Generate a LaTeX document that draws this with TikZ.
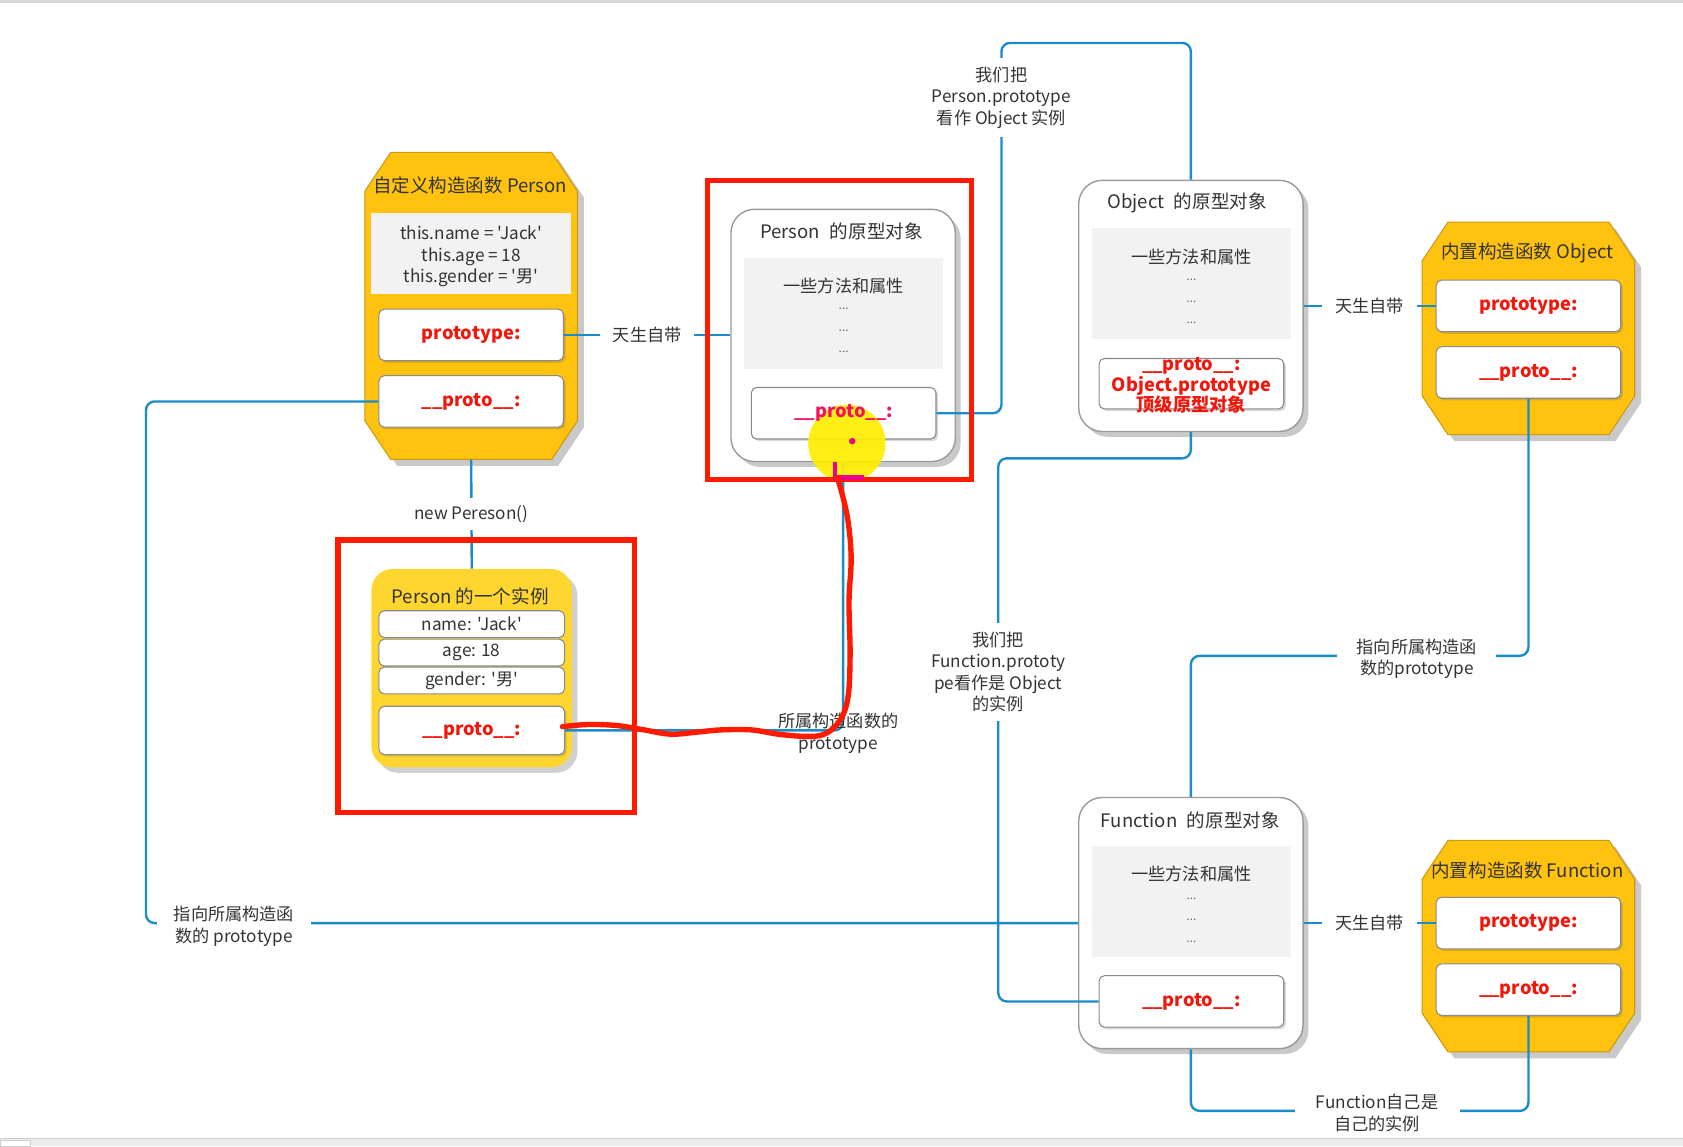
\documentclass[tikz,border=0pt]{standalone}
\usepackage{fontspec}
\setmainfont{Noto Sans CJK SC}[Ligatures=TeXOff]
\usetikzlibrary{shadows}
\definecolor{lnblue}{HTML}{1C8CC8}
\definecolor{gold}{HTML}{FFC20E}
\definecolor{golddk}{HTML}{C99A10}
\definecolor{instyel}{HTML}{FFD630}
\definecolor{grayfill}{HTML}{F2F2F2}
\definecolor{slotbd}{HTML}{8A8A8A}
\definecolor{objbd}{HTML}{9A9A9A}
\definecolor{txt}{HTML}{333333}
\definecolor{redhl}{HTML}{FF1A00}
\definecolor{txtred}{HTML}{F0180C}
\definecolor{rulergray}{HTML}{D6D6D6}
\definecolor{stripgray}{HTML}{ECECEC}
\definecolor{stripbd}{HTML}{CFCFCF}
\newcommand{\fLbl}{\fontsize{16}{20}\selectfont}
\newcommand{\fTtl}{\fontsize{17.3}{20}\selectfont}
\newcommand{\fSlot}{\fontsize{17}{19}\selectfont\bfseries}
\newcommand{\fDots}{\fontsize{11}{12}\selectfont}
\newcommand{\octashape}[4]{%
 \path[octa] ({#1-#3/2+24},{#2-#4/2}) -- ({#1+#3/2-24},{#2-#4/2}) -- ({#1+#3/2},{#2-#4/2+36}) -- ({#1+#3/2},{#2+#4/2-36}) -- ({#1+#3/2-24},{#2+#4/2}) -- ({#1-#3/2+24},{#2+#4/2}) -- ({#1-#3/2},{#2+#4/2-36}) -- ({#1-#3/2},{#2-#4/2+36}) -- cycle;}
\tikzset{
 conn/.style={draw=lnblue, line width=2.2pt, rounded corners=8pt},
 lbl/.style={fill=white, text=txt, font=\fLbl, align=center, inner xsep=12pt, inner ysep=5pt},
 slot/.style={draw=slotbd, fill=white, rounded corners=5pt, line width=1pt, minimum width=172pt, minimum height=48pt, inner sep=0pt, text=txtred, font=\fSlot, drop shadow={shadow xshift=2pt, shadow yshift=-2pt, opacity=0.25, fill=black!60}},
 field/.style={draw=slotbd, fill=white, rounded corners=5pt, line width=1pt, minimum width=173pt, minimum height=25pt, inner sep=0pt, text=txt, font=\fLbl},
 protoobj/.style={draw=objbd, fill=white, rounded corners=22pt, line width=1.3pt, minimum width=209pt, minimum height=234pt, inner sep=0pt, drop shadow={shadow xshift=5pt, shadow yshift=-5pt, opacity=0.35, fill=black!60}},
 graybox/.style={fill=grayfill, minimum width=186pt, minimum height=104pt, inner sep=0pt},
 octa/.style={fill=gold, draw=golddk, line width=1pt, drop shadow={shadow xshift=6pt, shadow yshift=-6pt, opacity=0.35, fill=black!60}},
 ghost/.style={inner sep=0pt, draw=none},
 ttl/.style={text=txt, font=\fTtl, inner sep=1pt},
 mth/.style={text=txt, font=\fLbl, inner sep=1pt},
 dots/.style={text=black!60, font=\fDots, inner sep=0pt},
 hl/.style={draw=redhl, line width=5pt},
}
\begin{document}
\begin{tikzpicture}[x=1pt,y=-1pt]
\fill[white] (0,0) rectangle (1568,1068);
\useasboundingbox (0,0) rectangle (1568,1068);
\fill[rulergray] (0,0) rectangle (1568,2.5);
\fill[stripgray] (0,1060) rectangle (1568,1068);
\draw[stripbd] (0,1060) -- (1568,1060);
\draw[stripbd, fill=white] (0,1062) rectangle (28,1068);

% ---------- Person constructor ----------
\octashape{439}{285}{198}{286}
\node[ghost, minimum width=198pt, minimum height=286pt] (pc) at (439,285) {};
\node[ttl] (pct) at (438,173) {自定义构造函数 Person};
\node[graybox, minimum width=186pt, minimum height=76pt, text=txt, font=\fLbl, align=center] (pcg) at (439,236) {};
\node[mth, align=center] (pcgt) at (439,239) {this.name = 'Jack'\\this.age = 18\\this.gender = '男'};
\node[slot] (pcp) at (439,312) {prototype:};
\node[slot] (pcq) at (439,374) {\_\_proto\_\_:};

% ---------- Person instance ----------
\node[fill=instyel, rounded corners=20pt, minimum width=187pt, minimum height=185pt, inner sep=0pt, drop shadow={shadow xshift=5pt, shadow yshift=-5pt, opacity=0.3, fill=black!60}] (in) at (439.5,622.5) {};
\node[ttl] (intt) at (438,556) {Person 的一个实例};
\node[field] (inf1) at (439.5,581.5) {name: 'Jack'};
\node[field] (inf2) at (439.5,608) {age: 18};
\node[field] (inf3) at (439.5,634) {gender: '男'};
\node[slot, minimum width=173pt, minimum height=45pt] (inq) at (439.5,680.5) {\_\_proto\_\_:};

% ---------- Person prototype object ----------
\node[protoobj, minimum height=235pt] (pp) at (785.5,312.5) {};
\node[ttl] (ppt) at (784,216) {Person\hspace{9pt}的原型对象};
\node[graybox] (ppg) at (786,292) {};
\node[mth] (ppm) at (786,266) {一些方法和属性};
\node[dots] (ppd1) at (786,288) {...};
\node[dots] (ppd2) at (786,308) {...};
\node[dots] (ppd3) at (786,328) {...};
\node[slot] (ppq) at (786,385) {};

% ---------- Object prototype object ----------
\node[protoobj] (op) at (1109.5,285) {};
\node[ttl] (opt) at (1106,189) {Object\hspace{9pt}的原型对象};
\node[graybox] (opg) at (1110,264) {};
\node[mth] (opm) at (1110,239) {一些方法和属性};
\node[dots] (opd1) at (1110,261) {...};
\node[dots] (opd2) at (1110,281) {...};
\node[dots] (opd3) at (1110,301) {...};
\node[slot, minimum height=47pt] (opq) at (1110,357.5) {};
\node[text=txtred, font=\fSlot, align=center, inner sep=0pt] (opqt) at (1110,359) {\_\_proto\_\_:\\[0.5pt]Object.prototype\\[0.5pt]顶级原型对象};

% ---------- Object constructor ----------
\octashape{1424}{306}{198}{198}
\node[ghost, minimum width=198pt, minimum height=198pt] (oc) at (1424,306) {};
\node[ttl] (oct) at (1423,236) {内置构造函数 Object};
\node[slot] (ocp) at (1424,285) {prototype:};
\node[slot] (ocq) at (1424,347) {\_\_proto\_\_:};

% ---------- Function prototype object ----------
\node[protoobj] (fp) at (1109.5,860) {};
\node[ttl] (fpt) at (1109,764) {Function\hspace{9pt}的原型对象};
\node[graybox] (fpg) at (1110,840) {};
\node[mth] (fpm) at (1110,814) {一些方法和属性};
\node[dots] (fpd1) at (1110,837) {...};
\node[dots] (fpd2) at (1110,857) {...};
\node[dots] (fpd3) at (1110,877) {...};
\node[slot] (fpq) at (1110,933) {\_\_proto\_\_:};

% ---------- Function constructor ----------
\octashape{1424}{881.5}{198}{197}
\node[ghost, minimum width=198pt, minimum height=197pt] (fc) at (1424,881.5) {};
\node[ttl] (fct) at (1423,811) {内置构造函数 Function};
\node[slot] (fcp) at (1424,860) {prototype:};
\node[slot] (fcq) at (1424,922) {\_\_proto\_\_:};

% ---------- connectors ----------
\coordinate (k2) at (136,860);
\coordinate (k5) at (933,40);
\coordinate (k6) at (930,427);
\coordinate (k8) at (1320,611);
\coordinate (k10) at (1283,1035);
\draw[conn] (pcp.east) -- (pp.west |- pcp.east);
\draw[conn] (pcq.west) -| (k2) -- (fp.west |- k2);
\draw[conn] (pc.south) -- (in.north);
\draw[conn] (inq.east) -| (pp.south);
\draw[conn] (ppq.east) -| (k5) -| (op.north);
\draw[conn] (op.south) |- (k6) |- (fpq.west);
\draw[conn] (op.east |- ocp.west) -- (ocp.west);
\draw[conn] (ocq.south) |- (k8) -| (fp.north);
\draw[conn] (fp.east |- fcp.west) -- (fcp.west);
\draw[conn] (fcq.south) |- (k10) -| (fp.south);

% ---------- labels ----------
\node[lbl] (l1) at (603,312) {天生自带};
\node[lbl, inner xsep=16pt] (l2) at (218,863) {指向所属构造函\\数的 prototype};
\node[lbl, inner ysep=7pt] (l3) at (439,479) {new Pereson()};
\node[lbl, fill=none, inner xsep=2pt] (l4) at (781,683) {所属构造函数的\\prototype};
\node[lbl, inner ysep=8pt] (l5) at (933,91) {我们把\\Person.prototype\\看作 Object 实例};
\node[lbl, inner ysep=8pt] (l6) at (930,626) {我们把\\Function.prototy\\pe看作是 Object\\的实例};
\node[lbl] (l7) at (1276,285) {天生自带};
\node[lbl, inner xsep=18pt] (l8) at (1320,614) {指向所属构造函\\数的prototype};
\node[lbl] (l9) at (1276,860) {天生自带};
\node[lbl, inner xsep=20pt] (l10) at (1283,1037) {Function自己是\\自己的实例};

% ---------- annotations ----------
\fill[yellow!95!orange, opacity=0.92] (789,413) circle (36);
\node[text=txtred!65!magenta, font=\fSlot, inner sep=0pt] (ppqt) at (786,385) {\_\_proto\_\_:};
\fill[magenta] (794,411) circle (3);
\draw[hl] (315,503) rectangle (591,757);
\draw[hl] (659,168) rectangle (905,447);
\draw[magenta, line width=4pt] (778,430) -- (778,445) -- (805,445);
\draw[redhl, line width=5pt, line cap=round, line join=round] plot[smooth, tension=0.6] coordinates {(524,677) (548,675) (575,676) (600,680) (625,684) (650,682) (672,680) (700,680) (725,684) (750,686) (768,684) (782,672) (790,650) (792,610) (791,560) (793,520) (790,485) (784,458) (780,445)};
\end{tikzpicture}
\end{document}
